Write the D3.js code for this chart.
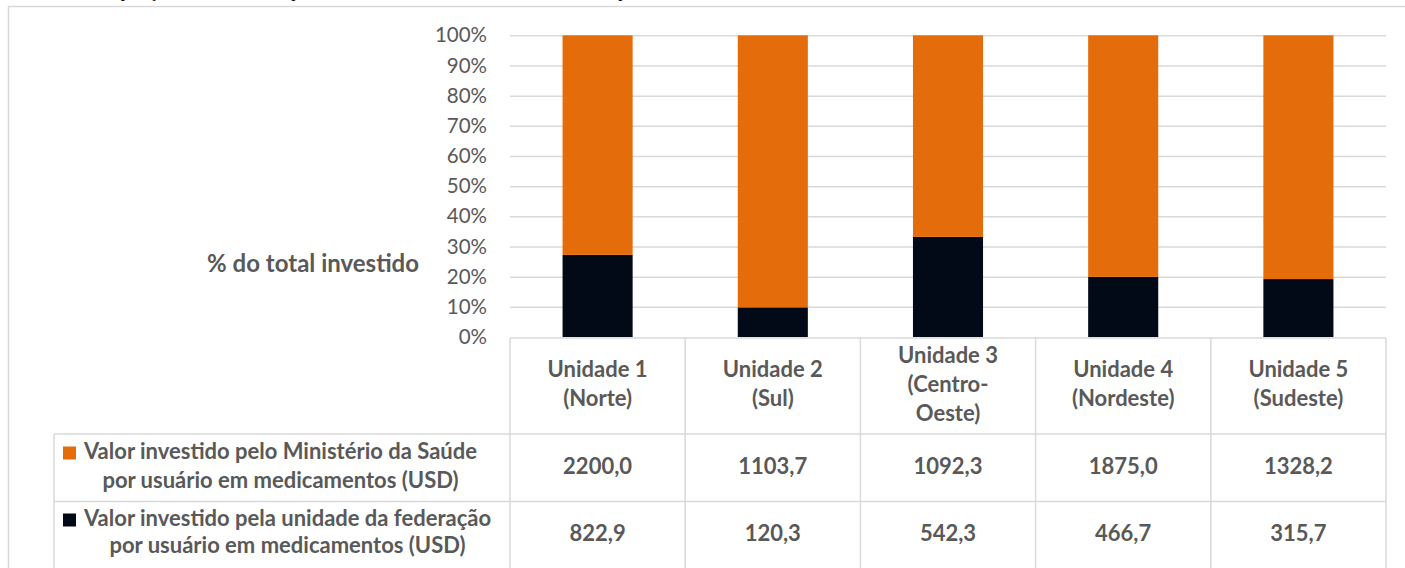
<!DOCTYPE html>
<html>
<head>
<meta charset="utf-8">
<script src="https://cdn.jsdelivr.net/npm/d3@7"></script>
<style>
  body { margin: 0; background: #fff; }
  svg { display: block; }
  text { font-family: Lato, "Open Sans", sans-serif; fill: #595959; }
</style>
</head>
<body>
<svg id="chart" width="1405" height="568"></svg>
<script>
// data
const categories = ["Unidade 1 (Norte)", "Unidade 2 (Sul)", "Unidade 3 (Centro-Oeste)", "Unidade 4 (Nordeste)", "Unidade 5 (Sudeste)"];
const categoryLines = [["Unidade 1", "(Norte)"], ["Unidade 2", "(Sul)"], ["Unidade 3", "(Centro-", "Oeste)"], ["Unidade 4", "(Nordeste)"], ["Unidade 5", "(Sudeste)"]];
const ministerio = [2200.0, 1103.7, 1092.3, 1875.0, 1328.2];
const federacao = [822.9, 120.3, 542.3, 466.7, 315.7];
const seriesNames = [
    ["Valor investido pelo Ministério da Saúde", "por usuário em medicamentos (USD)"],
    ["Valor investido pela unidade da federação", "por usuário em medicamentos (USD)"]
];
const yTicks = [0, 0.1, 0.2, 0.3, 0.4, 0.5, 0.6, 0.7, 0.8, 0.9, 1];

const colors = { fed: "#030a17", min: "#e46c0a" };
const grid = "#d9d9d9";

const svg = d3.select("#chart");

// title of the figure, almost entirely cut off at the top of the picture
svg.append("text")
    .attr("x", 6).attr("y", -3)
    .style("font-family", "'Liberation Serif', serif")
    .style("font-size", "17px")
    .style("fill", "#000")
    .text("Gráfico 1 – Comparação do investimento para o financiamento de medicamentos do SUS por usuário.");

// outer chart frame
svg.append("path")
    .attr("d", "M8.5,568 V6.5 H1405")
    .attr("fill", "none").attr("stroke", grid).attr("stroke-width", 1.5);

const plotLeft = 510, plotRight = 1386, plotTop = 35.3, plotBottom = 337;

const x = d3.scaleBand()
    .domain(categories)
    .range([plotLeft, plotRight])
    .paddingInner(0.6)
    .paddingOuter(0.3);

const y = d3.scaleLinear()
    .domain([0, 1])
    .range([plotBottom, plotTop]);

// gridlines
svg.append("g")
    .attr("transform", `translate(${plotLeft},0)`)
    .call(d3.axisLeft(y).tickValues(yTicks.slice(1)).tickSize(-(plotRight - plotLeft)).tickFormat(""))
    .call(g => g.select(".domain").remove())
    .call(g => g.selectAll("line").attr("stroke", grid).attr("stroke-width", 1.5));

// y labels
svg.append("g")
    .attr("transform", `translate(${plotLeft},0)`)
    .call(d3.axisLeft(y).tickValues(yTicks).tickSize(0).tickPadding(23).tickFormat(d3.format(".0%")))
    .call(g => g.select(".domain").remove())
    .call(g => g.selectAll("text").style("font-size", "20.5px").style("font-family", "Lato, sans-serif").attr("fill", "#595959"));

svg.append("text")
    .attr("x", 419).attr("y", 266)
    .attr("text-anchor", "end")
    .attr("dominant-baseline", "middle")
    .style("font-size", "24px").style("font-weight", "bold")
    .text("% do total investido");

// stacked 100% bars
const rows = categories.map((c, i) => ({ cat: c, fed: federacao[i], min: ministerio[i] }));
const stack = d3.stack().keys(["fed", "min"]).offset(d3.stackOffsetExpand);
const layers = stack(rows);

svg.selectAll("g.layer")
    .data(layers)
    .join("g")
    .attr("class", "layer")
    .attr("fill", d => colors[d.key])
    .selectAll("rect")
    .data(d => d)
    .join("rect")
    .attr("x", d => x(d.data.cat))
    .attr("width", x.bandwidth())
    .attr("y", d => y(d[1]))
    .attr("height", d => y(d[0]) - y(d[1]));

// data table
const step = x.step();
const colLeft = c => x(c) + x.bandwidth() / 2 - step / 2;
const tableLeft = 54;
const rowTop = [338, 434, 501.5];
const tableBottom = 580;
const fs = "22px";

const lines = svg.append("g").attr("stroke", grid).attr("stroke-width", 1.5).attr("fill", "none");
lines.append("line").attr("x1", plotLeft).attr("x2", plotRight).attr("y1", rowTop[0]).attr("y2", rowTop[0]);
lines.append("line").attr("x1", tableLeft).attr("x2", plotRight).attr("y1", rowTop[1]).attr("y2", rowTop[1]);
lines.append("line").attr("x1", tableLeft).attr("x2", plotRight).attr("y1", rowTop[2]).attr("y2", rowTop[2]);
lines.append("line").attr("x1", tableLeft).attr("x2", tableLeft).attr("y1", rowTop[1]).attr("y2", tableBottom);
categories.forEach(c => {
    const cx = colLeft(c);
    lines.append("line").attr("x1", cx).attr("x2", cx).attr("y1", rowTop[0]).attr("y2", tableBottom);
});
lines.append("line").attr("x1", plotRight).attr("x2", plotRight).attr("y1", rowTop[0]).attr("y2", tableBottom);

// header cells
const lh = 29;
categories.forEach((c, i) => {
    const ls = categoryLines[i];
    const mid = (rowTop[0] + rowTop[1]) / 2;
    const t = svg.append("text")
        .attr("x", x(c) + x.bandwidth() / 2)
        .attr("text-anchor", "middle")
        .style("font-size", fs).style("font-weight", "bold");
    ls.forEach((s, k) => {
        t.append("tspan")
            .attr("x", x(c) + x.bandwidth() / 2)
            .attr("y", mid + (k - (ls.length - 1) / 2) * lh)
            .attr("dominant-baseline", "middle")
            .text(s);
    });
});

// value cells
const fmt = v => d3.format(".1f")(v).replace(".", ",");
[ministerio, federacao].forEach((vals, r) => {
    const mid = r === 0 ? 468 : 535;
    categories.forEach((c, i) => {
        svg.append("text")
            .attr("x", x(c) + x.bandwidth() / 2)
            .attr("y", mid)
            .attr("text-anchor", "middle")
            .attr("dominant-baseline", "middle")
            .style("font-size", fs).style("font-weight", "bold")
            .text(fmt(vals[i]));
    });
});

// legend cells: swatch, first line next to it, second line centred under the first
const legendColors = [colors.min, colors.fed];
const legendMid = [[453, 482], [520, 547]];
seriesNames.forEach((ls, r) => {
    const sw = 13;
    svg.append("rect")
        .attr("x", 63).attr("y", legendMid[r][0] - sw / 2)
        .attr("width", sw).attr("height", sw)
        .attr("fill", legendColors[r]);
    const l1 = svg.append("text")
        .attr("x", 84)
        .attr("y", legendMid[r][0])
        .attr("dominant-baseline", "middle")
        .style("font-size", fs).style("font-weight", "bold")
        .text(ls[0]);
    const w = l1.node().getComputedTextLength();
    svg.append("text")
        .attr("x", 84 + w / 2)
        .attr("y", legendMid[r][1])
        .attr("text-anchor", "middle")
        .attr("dominant-baseline", "middle")
        .style("font-size", fs).style("font-weight", "bold")
        .text(ls[1]);
});
</script>
</body>
</html>
